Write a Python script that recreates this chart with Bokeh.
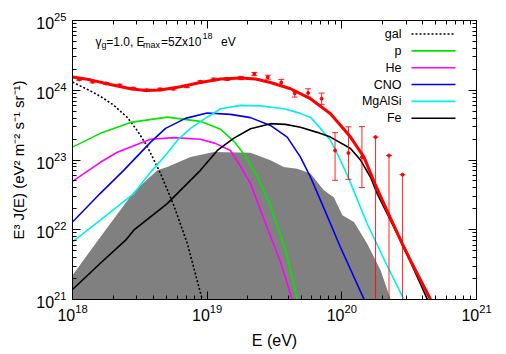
import numpy as np
from bokeh.plotting import figure
from bokeh.models import Range1d, LogAxis, FixedTicker, Label
from bokeh.embed import file_html
from bokeh.resources import INLINE

# ---------------- data (E in eV, E^3 J(E) in eV^2 m^-2 s^-1 sr^-1) ----------------
E_total = [1.00e18, 1.36e18, 1.91e18, 2.70e18, 3.48e18, 4.50e18, 6.34e18, 8.91e18, 1.26e19,
           1.77e19, 2.29e19, 2.95e19, 4.16e19, 5.85e19, 8.24e19, 1.16e20, 1.46e20, 1.78e20,
           2.23e20, 2.81e20, 3.24e20, 4.55e20, 4.75e20]
J_total = [1.55e24, 1.41e24, 1.21e24, 1.05e24, 9.95e23, 1.01e24, 1.12e24, 1.29e24, 1.45e24,
           1.50e24, 1.45e24, 1.29e24, 1.05e24, 7.57e23, 4.61e23, 2.13e23, 1.10e23, 4.35e22,
           1.66e22, 6.30e21, 3.60e21, 1.01e21, 8.0e20]

E_gal = [1.00e18, 1.36e18, 1.61e18, 2.01e18, 2.55e18, 3.02e18, 3.59e18, 4.50e18, 5.65e18,
         7.11e18, 9.18e18, 9.6e18]
J_gal = [1.31e24, 9.78e23, 8.17e23, 6.17e23, 4.08e23, 2.66e23, 1.57e23, 6.44e22, 2.24e22,
         6.41e21, 1.01e21, 8.0e20]

E_p = [1.00e18, 1.61e18, 2.70e18, 5.05e18, 8.91e18, 1.26e19, 1.58e19, 1.93e19, 2.37e19,
       2.95e19, 3.82e19, 4.67e19, 4.85e19]
J_p = [1.53e23, 2.41e23, 3.46e23, 4.12e23, 3.58e23, 2.75e23, 1.85e23, 1.13e23, 5.65e22,
       2.24e22, 5.08e21, 1.01e21, 8.0e20]

E_he = [1.00e18, 1.61e18, 2.15e18, 3.79e18, 5.65e18, 8.91e18, 1.15e19, 1.49e19, 1.77e19,
        2.10e19, 2.71e19, 3.51e19, 4.28e19, 4.45e19]
J_he = [4.94e22, 9.27e22, 1.29e23, 1.98e23, 2.09e23, 1.98e23, 1.73e23, 1.37e23, 8.11e22,
        4.58e22, 1.24e22, 3.42e21, 1.01e21, 8.0e20]

E_cno = [1.00e18, 1.61e18, 2.40e18, 3.79e18, 4.91e18, 6.90e18, 1.00e19, 1.49e19, 2.10e19,
         2.95e19, 3.93e19, 4.93e19, 5.85e19, 6.95e19, 9.77e19, 1.46e20, 1.52e20]
J_cno = [1.29e22, 3.33e22, 7.11e22, 1.79e23, 2.84e23, 3.95e23, 4.71e23, 4.51e23, 4.05e23,
         3.13e23, 2.13e23, 1.10e23, 5.70e22, 2.64e22, 5.61e21, 1.01e21, 8.0e20]

E_mg = [1.00e18, 1.61e18, 2.85e18, 3.79e18, 4.91e18, 6.00e18, 7.52e18, 9.44e18, 1.26e19,
        1.77e19, 2.49e19, 3.71e19, 4.93e19, 5.85e19, 6.95e19, 8.24e19, 9.77e19, 1.10e20,
        1.54e20, 2.11e20, 2.88e20, 3.0e20]
J_mg = [6.68e21, 1.37e22, 3.30e22, 6.65e22, 1.17e23, 1.91e23, 2.84e23, 3.82e23, 5.43e23,
        6.07e23, 5.97e23, 5.43e23, 4.66e23, 4.08e23, 2.84e23, 1.91e23, 9.89e22, 6.03e22,
        1.23e22, 3.42e21, 1.01e21, 8.0e20]

E_fe = [1.00e18, 1.61e18, 2.48e18, 2.85e18, 5.05e18, 8.91e18, 1.19e19, 1.57e19, 2.10e19,
        2.95e19, 3.82e19, 4.93e19, 6.56e19, 8.24e19, 1.16e20, 1.38e20, 1.63e20, 1.83e20,
        2.43e20, 3.24e20, 4.31e20, 4.5e20]
J_fe = [1.39e21, 3.31e21, 7.08e21, 9.84e21, 2.37e22, 7.11e22, 1.37e23, 2.04e23, 2.81e23,
        3.32e23, 3.24e23, 2.94e23, 2.49e23, 2.13e23, 1.46e23, 9.89e22, 5.70e22, 3.30e22,
        1.10e22, 3.42e21, 1.01e21, 8.0e20]

E_shade = [1.00e18, 1.61e18, 2.85e18, 4.26e18, 5.05e18, 7.52e18, 1.12e19, 2.10e19, 2.95e19,
           3.71e19, 4.67e19, 5.85e19, 7.35e19, 8.71e19, 1.01e20, 1.23e20, 1.54e20, 1.94e20,
           2.30e20, 2.4e20]
J_shade = [2.23e21, 7.89e21, 3.48e22, 7.11e22, 7.93e22, 1.10e23, 1.30e23, 1.27e23, 9.89e22,
           7.93e22, 7.52e22, 6.38e22, 3.68e22, 2.92e22, 1.61e22, 1.29e22, 6.34e21, 2.63e21,
           1.01e21, 8.0e20]

E_data = [1.12e18, 1.41e18, 1.78e18, 2.24e18, 2.82e18, 3.55e18, 4.47e18, 5.62e18, 7.08e18,
          8.91e18, 1.12e19, 1.41e19, 1.78e19, 2.24e19, 2.82e19, 3.55e19, 4.47e19, 5.62e19,
          7.08e19, 8.91e19, 1.12e20, 1.41e20, 1.78e20, 2.24e20, 2.82e20]
J_data = [1.43e24, 1.32e24, 1.25e24, 1.18e24, 1.06e24, 1.00e24, 1.03e24, 1.05e24, 1.14e24,
          1.32e24, 1.43e24, 1.45e24, 1.50e24, 1.71e24, 1.54e24, 1.29e24, 9.02e23, 9.16e23,
          7.57e23, 1.37e23, 1.26e23, 1.10e23, 2.13e23, 1.16e23, 6.17e22]
J_up = [1.47e24, 1.36e24, 1.29e24, 1.22e24, 1.10e24, 1.04e24, 1.07e24, 1.09e24, 1.19e24,
        1.37e24, 1.49e24, 1.52e24, 1.58e24, 1.80e24, 1.64e24, 1.43e24, 9.73e23, 1.05e24,
        9.10e23, 2.47e23, 2.99e23, 3.01e23, 2.13e23, 1.16e23, 6.17e22]
J_lo = [1.39e24, 1.28e24, 1.21e24, 1.14e24, 1.02e24, 0.96e24, 0.99e24, 1.01e24, 1.09e24,
        1.27e24, 1.37e24, 1.38e24, 1.42e24, 1.62e24, 1.44e24, 1.17e24, 7.98e23, 7.98e23,
        6.27e23, 5.12e22, 5.28e22, 4.02e22, 1.0e18, 1.0e18, 1.0e18]

legend_names = ["gal", "p", "He", "CNO", "MgAlSi", "Fe"]

x_major = [1e18, 1e19, 1e20, 1e21]
y_major = [1e21, 1e22, 1e23, 1e24, 1e25]

# ---------------- styling ----------------
FONT = "Liberation Sans"
X0, X1 = 1e18, 1e21
Y0, Y1 = 1e21, 1e25
FW, FH = 404, 279

C_TOT = "#ff0000"
C_P = "#00e600"
C_HE = "#ff00ff"
C_CNO = "#0000f0"
C_MG = "#00f0f0"
C_FE = "#000000"
C_SHADE = "#808080"


def fx(px):
    return 10 ** (np.log10(X0) + px / FW * np.log10(X1 / X0))


def fy(py):
    return 10 ** (np.log10(Y1) - py / FH * np.log10(Y1 / Y0))


def minors(majors):
    out = []
    for m in majors[:-1]:
        out += [k * m for k in range(2, 10)]
    return out


p = figure(width=506, height=354, x_axis_type="log", y_axis_type="log",
           x_range=Range1d(X0, X1), y_range=Range1d(Y0, Y1),
           output_backend="svg", toolbar_location=None,
           min_border_left=72, min_border_right=30, min_border_top=20, min_border_bottom=55)
p.grid.visible = False
p.outline_line_color = "black"
p.outline_line_width = 1
p.background_fill_color = "white"
p.border_fill_color = "white"

xt = FixedTicker(ticks=x_major, minor_ticks=minors(x_major))
yt = FixedTicker(ticks=y_major, minor_ticks=minors(y_major))

p.xaxis.ticker = xt
p.yaxis.ticker = yt
for ax in (p.xaxis[0], p.yaxis[0]):
    ax.major_tick_in = 8
    ax.major_tick_out = 0
    ax.minor_tick_in = 4
    ax.minor_tick_out = 0
    ax.axis_line_color = "black"
    ax.major_label_text_font = FONT
    ax.major_label_text_font_size = "16px"
    ax.major_label_text_color = "black"
    ax.axis_label_text_font = FONT
    ax.axis_label_text_font_style = "normal"
    ax.axis_label_text_color = "black"

p.xaxis.axis_label = "E (eV)"
p.yaxis.axis_label = "E³ J(E) (eV² m⁻² s⁻¹ sr⁻¹)"
p.xaxis.axis_label_text_font_size = "16px"
p.yaxis.axis_label_text_font_size = "15px"
p.xaxis.major_label_standoff = 4
p.yaxis.major_label_standoff = 6
p.xaxis.axis_label_standoff = 8
p.yaxis.axis_label_standoff = 6

for loc, tick in (("above", xt), ("right", yt)):
    ax = LogAxis(ticker=tick, major_tick_in=8, major_tick_out=0, minor_tick_in=4,
                 minor_tick_out=0, axis_line_color=None, major_label_text_alpha=0,
                 major_label_text_font_size="1px", major_label_standoff=0)
    p.add_layout(ax, loc)

# shaded region
p.varea(x=E_shade, y1=[Y0] * len(E_shade), y2=J_shade, fill_color=C_SHADE)

# component curves
p.line(E_gal, J_gal, line_color="black", line_width=1.6, line_dash="2 2")
p.line(E_p, J_p, line_color=C_P, line_width=1.6)
p.line(E_he, J_he, line_color=C_HE, line_width=1.6)
p.line(E_cno, J_cno, line_color=C_CNO, line_width=1.6)
p.line(E_mg, J_mg, line_color=C_MG, line_width=1.6)
p.line(E_fe, J_fe, line_color=C_FE, line_width=1.6)
p.line(E_total, J_total, line_color=C_TOT, line_width=3)

# data with error bars
p.segment(x0=E_data, y0=J_lo, x1=E_data, y1=J_up, line_color=C_TOT, line_width=1, line_alpha=0.85)
p.scatter(E_data, J_up, marker="dash", size=6, line_color=C_TOT, line_width=1, line_alpha=0.85)
p.scatter(E_data, J_lo, marker="dash", size=6, line_color=C_TOT, line_width=1, line_alpha=0.85)
p.scatter(E_data, J_data, marker="circle", size=3, fill_color=C_TOT, line_color=C_TOT)

# legend (text then sample, gnuplot style)
styles = [("black", 1.6, "2 2"), (C_P, 1.6, "solid"), (C_HE, 1.6, "solid"),
          (C_CNO, 1.6, "solid"), (C_MG, 1.6, "solid"), (C_FE, 1.6, "solid")]
for i, (name, (col, w, dash)) in enumerate(zip(legend_names, styles)):
    yy = fy(13.5 + 16.85 * i)
    p.add_layout(Label(x=fx(329), y=yy, text=name, text_align="right", text_baseline="middle",
                       text_font=FONT, text_font_size="12.5px", text_color="black"))
    p.line([fx(339), fx(383)], [yy, yy], line_color=col, line_width=w, line_dash=dash)

# annotation  γ_g=1.0, E_max=5Zx10^18 eV
pieces = [("γ", 23, 21.3, "12px"), ("g", 29, 24.5, "9px"), ("=1.0, E", 33.7, 21.3, "12px"),
          ("max", 70.5, 24.5, "9px"), ("=5Zx10", 88.5, 21.3, "12px"), ("18", 130, 15.5, "9px"),
          ("eV", 148.5, 21.3, "12px")]
for txt, px, py, fs in pieces:
    p.add_layout(Label(x=fx(px), y=fy(py), text=txt, text_align="left", text_baseline="alphabetic",
                       text_font=FONT, text_font_size=fs, text_color="black"))

open("out.html", "w").write(file_html(p, INLINE))
